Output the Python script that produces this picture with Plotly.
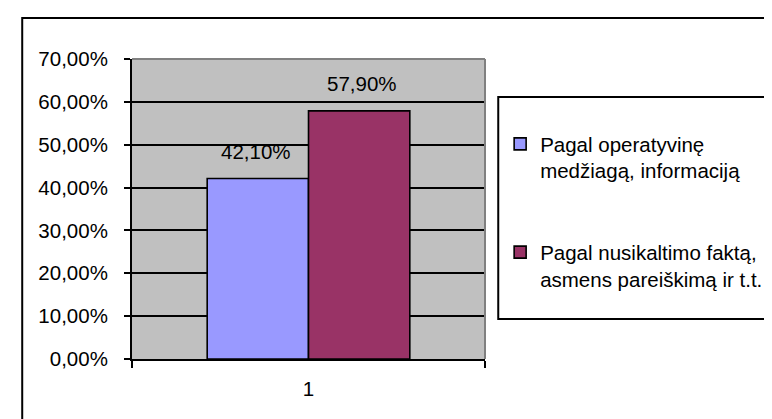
import plotly.graph_objects as go

categories = ["1"]
series_names = ["Pagal operatyvinę<br>medžiagą, informaciją",
                "Pagal nusikaltimo faktą,<br>asmens pareiškimą ir t.t."]
series_values = [[0.421], [0.579]]
series_labels = [["42,10%"], ["57,90%"]]
series_colors = ["#9999FF", "#993366"]
y_tick_vals = [0, 0.1, 0.2, 0.3, 0.4, 0.5, 0.6, 0.7]
y_tick_text = ["0,00%", "10,00%", "20,00%", "30,00%", "40,00%", "50,00%", "60,00%", "70,00%"]

W, H = 772, 419
L, R, T, B = 124, 497, 51, 351

def px(x):
    return (x - L) / (R - L)

def py(y):
    return (B - y) / (B - T)

FONT = "Liberation Sans, Arial, sans-serif"
FS = 20.5

fig = go.Figure()
for i, (name, vals, col) in enumerate(zip(series_names, series_values, series_colors)):
    fig.add_trace(go.Bar(
        x=categories, y=vals, name=name, legendgroup=str(i),
        marker=dict(color=col, line=dict(color="black", width=1.6)),
        offsetgroup=str(i),
    ))

# value labels above bars
for i, (vals, labs) in enumerate(zip(series_values, series_labels)):
    for ci, (v, t) in enumerate(zip(vals, labs)):
        fig.add_annotation(x=ci, y=v, xref="x", yref="y", text=t, showarrow=False,
                           xshift=(-53 if i == 0 else 53), yshift=14,
                           xanchor="center", yanchor="bottom",
                           font=dict(family=FONT, size=FS, color="black"))

shapes = [
    # legend frame
    dict(type="rect", xref="paper", yref="paper", x0=px(511), x1=px(800), y0=py(311), y1=py(89),
         line=dict(color="black", width=2), fillcolor="white", layer="below"),
    # outer frame
    dict(type="rect", xref="paper", yref="paper", x0=px(8), x1=px(800), y0=py(440), y1=py(10),
         line=dict(color="black", width=2), fillcolor="rgba(0,0,0,0)", layer="above"),
    # plot area top & right (gray)
    dict(type="line", xref="paper", yref="paper", x0=0, x1=1, y0=1, y1=1,
         line=dict(color="#808080", width=2), layer="above"),
    dict(type="line", xref="paper", yref="paper", x0=1, x1=1, y0=0, y1=1,
         line=dict(color="#808080", width=2), layer="above"),
]

fig.update_layout(
    width=W, height=H,
    margin=dict(l=L, r=W - R, t=T, b=H - B, pad=0),
    paper_bgcolor="white", plot_bgcolor="#C0C0C0",
    barmode="group", bargap=0.426, bargroupgap=0,
    font=dict(family=FONT, size=FS, color="black"),
    showlegend=True,
    legend=dict(x=px(513), xanchor="left", y=py(116), yanchor="top",
                bgcolor="rgba(0,0,0,0)", borderwidth=0, valign="top",
                tracegroupgap=52, font=dict(family=FONT, size=FS, color="black")),
    shapes=shapes,
    xaxis=dict(type="category", range=[-0.5, 0.5], autorange=False,
               showgrid=False, zeroline=False, showline=True,
               linecolor="black", linewidth=2, ticks="outside", tickson="boundaries",
               ticklen=7, tickcolor="black", tickwidth=1.6, ticklabelstandoff=10),
    yaxis=dict(range=[0, 0.7], autorange=False, tickvals=y_tick_vals, ticktext=y_tick_text,
               showgrid=True, gridcolor="black", gridwidth=1.6, zeroline=False,
               showline=True, linecolor="black", linewidth=2, ticks="outside",
               ticklen=6, tickcolor="black", tickwidth=1.6, ticklabelstandoff=12),
)

fig.write_html("out.html")
